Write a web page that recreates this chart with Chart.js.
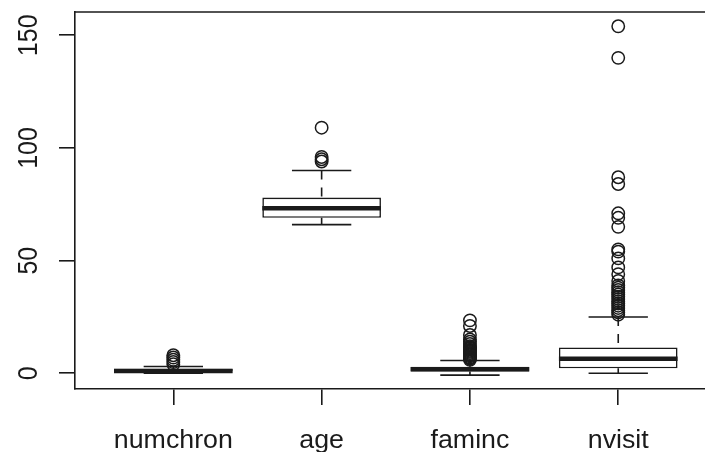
<!DOCTYPE html>
<html>
<head>
<meta charset="utf-8">
<script src="https://cdn.jsdelivr.net/npm/chart.js@4.4.0/dist/chart.umd.min.js"></script>
<style>
  html, body { margin: 0; padding: 0; background: #fff; }
  #wrap { width: 705px; height: 452px; }
</style>
</head>
<body>
<div id="wrap"><canvas id="boxChart" width="705" height="452"></canvas></div>
<script>
// Box plot stats
const categories = ["numchron", "age", "faminc", "nvisit"];
const whiskerLow = [0, 66, -0.8, 0];
const q1 = [1, 69, 0.8, 2.2];
const medians = [1, 73.3, 1.8, 6.5];
const q3 = [2, 78, 2.9, 11.5];
const whiskerHigh = [3, 90, 5.7, 25];
const outliers = [
    [4, 5, 6, 7, 8],
    [94, 95, 96, 109],
    [6, 6.5, 7, 7.5, 8, 8.5, 9, 9.5, 10, 10.5, 11, 11.5, 12, 13, 14, 15, 17, 21, 23.5],
    [26, 27, 28, 29, 30, 31, 32, 33, 34, 35, 36, 37, 38, 39, 41, 44, 47, 51, 54, 55, 65, 69, 71, 84, 87, 140, 154]
];
const yTicks = [0, 50, 100, 150];

const ink = "#1a1a1a";
const labelFont = '25px "Liberation Sans", Arial, Helvetica, sans-serif';

// boxes as floating bars
const boxData = categories.map((c, i) => ({ x: i + 1, y: [q1[i], q3[i]] }));

// outlier points
const outlierData = [];
outliers.forEach((list, i) => {
    list.forEach(v => outlierData.push({ x: i + 1, y: v }));
});

// whiskers, caps, medians, top frame and labels
const boxExtras = {
    id: "boxExtras",
    afterDatasetsDraw(chart) {
        const ctx = chart.ctx;
        const xs = chart.scales.x;
        const ys = chart.scales.y;
        ctx.save();
        ctx.strokeStyle = ink;
        ctx.lineCap = "butt";
        categories.forEach((c, i) => {
            const xc = xs.getPixelForValue(i + 1);
            const capL = xs.getPixelForValue(i + 1 - 0.2);
            const capR = xs.getPixelForValue(i + 1 + 0.2);
            const boxL = xs.getPixelForValue(i + 1 - 0.4);
            const boxR = xs.getPixelForValue(i + 1 + 0.4);

            // dashed whiskers, from whisker end to box
            ctx.lineWidth = 1.6;
            ctx.setLineDash([9, 8]);
            ctx.beginPath();
            ctx.moveTo(xc, ys.getPixelForValue(whiskerHigh[i]));
            ctx.lineTo(xc, ys.getPixelForValue(q3[i]));
            ctx.moveTo(xc, ys.getPixelForValue(whiskerLow[i]));
            ctx.lineTo(xc, ys.getPixelForValue(q1[i]));
            ctx.stroke();
            ctx.setLineDash([]);

            // caps
            ctx.beginPath();
            ctx.moveTo(capL, ys.getPixelForValue(whiskerHigh[i]));
            ctx.lineTo(capR, ys.getPixelForValue(whiskerHigh[i]));
            ctx.moveTo(capL, ys.getPixelForValue(whiskerLow[i]));
            ctx.lineTo(capR, ys.getPixelForValue(whiskerLow[i]));
            ctx.stroke();

            // median
            ctx.lineWidth = 4.5;
            ctx.beginPath();
            ctx.moveTo(boxL, ys.getPixelForValue(medians[i]));
            ctx.lineTo(boxR, ys.getPixelForValue(medians[i]));
            ctx.stroke();
        });
        ctx.restore();
    },
    afterDraw(chart) {
        const ctx = chart.ctx;
        const area = chart.chartArea;
        const xs = chart.scales.x;
        const ys = chart.scales.y;
        ctx.save();
        // top of the frame (right side is off the canvas)
        ctx.strokeStyle = ink;
        ctx.lineWidth = 1.6;
        ctx.beginPath();
        ctx.moveTo(area.left, area.top);
        ctx.lineTo(area.right, area.top);
        ctx.stroke();

        ctx.fillStyle = ink;
        ctx.font = labelFont;
        ctx.textAlign = "center";
        ctx.textBaseline = "alphabetic";

        // category labels under the ticks
        categories.forEach((c, i) => {
            ctx.save();
            ctx.translate(xs.getPixelForValue(i + 1), 448);
            ctx.scale(1.07, 1);
            ctx.fillText(c, 0, 0);
            ctx.restore();
        });

        // rotated y labels
        yTicks.forEach(v => {
            ctx.save();
            ctx.translate(37, ys.getPixelForValue(v));
            ctx.scale(1.1, 1);
            ctx.rotate(-Math.PI / 2);
            ctx.fillText(String(v), 0, 0);
            ctx.restore();
        });
        ctx.restore();
    }
};

const ctx = document.getElementById("boxChart").getContext("2d");
const boxChart = new Chart(ctx, {
    type: "bar",
    data: {
        datasets: [
            {
                type: "bar",
                data: boxData,
                backgroundColor: "#ffffff",
                borderColor: ink,
                borderWidth: 1.6,
                borderSkipped: false,
                barPercentage: 0.8,
                categoryPercentage: 1.0,
                order: 2
            },
            {
                type: "scatter",
                data: outlierData,
                showLine: false,
                pointStyle: "circle",
                pointRadius: 6.2,
                pointHoverRadius: 6.2,
                pointBorderWidth: 1.5,
                pointBackgroundColor: "rgba(0,0,0,0)",
                pointBorderColor: ink,
                order: 1
            }
        ]
    },
    options: {
        responsive: false,
        animation: false,
        events: [],
        layout: { autoPadding: false, padding: { top: 12, right: 0, left: 0, bottom: 0 } },
        plugins: {
            legend: { display: false },
            tooltip: { enabled: false }
        },
        scales: {
            x: {
                type: "linear",
                min: 0.337,
                max: 4.585,
                offset: false,
                afterBuildTicks: scale => {
                    scale.ticks = categories.map((c, i) => ({ value: i + 1 }));
                },
                afterFit: scale => { scale.height = 63; },
                ticks: { display: false },
                grid: {
                    display: true,
                    offset: false,
                    drawOnChartArea: false,
                    drawTicks: true,
                    tickLength: 16,
                    color: ink,
                    lineWidth: 1.6
                },
                border: { display: true, color: ink, width: 1.6 }
            },
            y: {
                type: "linear",
                min: -6.97,
                max: 160.34,
                afterBuildTicks: scale => {
                    scale.ticks = yTicks.map(v => ({ value: v }));
                },
                afterFit: scale => { scale.width = 75; },
                ticks: { display: false },
                grid: {
                    display: true,
                    drawOnChartArea: false,
                    drawTicks: true,
                    tickLength: 16,
                    color: ink,
                    lineWidth: 1.6
                },
                border: { display: true, color: ink, width: 1.6 }
            }
        }
    },
    plugins: [boxExtras]
});
</script>
</body>
</html>
